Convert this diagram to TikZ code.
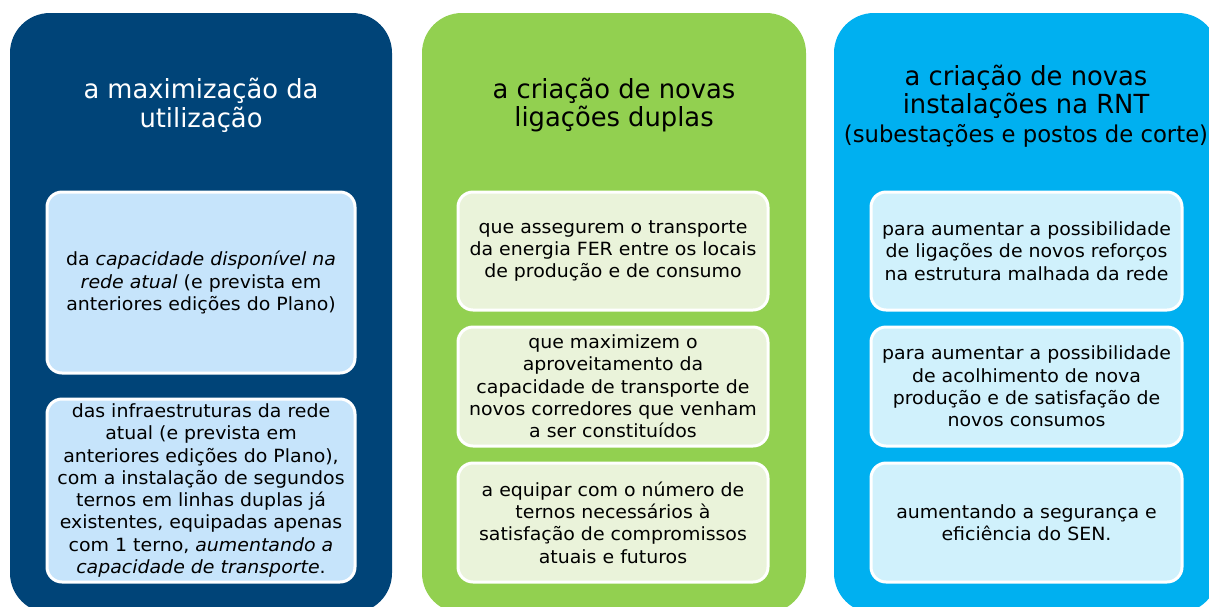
\documentclass[tikz,border=0pt]{standalone}
\usepackage{fontspec}
\setmainfont{DejaVu Sans}[FakeStretch=1.04]
\newfontfamily\ttlfont{DejaVu Sans}[FakeStretch=0.98]
\definecolor{pdark}{RGB}{0,68,120}
\definecolor{pgreen}{RGB}{146,208,80}
\definecolor{pcyan}{RGB}{0,176,240}
\definecolor{idark}{RGB}{198,228,251}
\definecolor{igreen}{RGB}{234,243,218}
\definecolor{icyan}{RGB}{208,241,252}
\tikzset{
  panel/.style={rounded corners=40pt},
  inbox/.style={draw=white, line width=3pt, rounded corners=15pt, inner sep=0pt, align=center,
    font=\fontsize{18.2}{22.3}\selectfont, text=black},
  ttl/.style={align=center, inner sep=0pt, font=\ttlfont\fontsize{26.3}{28.8}\selectfont}
}
\begin{document}
\begin{tikzpicture}[x=1pt,y=-1pt]
\useasboundingbox (0,0) rectangle (1209,606);
\fill[white] (0,0) rectangle (1209,606);
\begin{scope}
\clip (0,0) rectangle (1209,606);
\fill[pdark, panel] (10,13) rectangle (392,613);
\fill[pgreen, panel] (422,13) rectangle (806,613);
\fill[pcyan, panel] (834,13) rectangle (1218,613);
\end{scope}
% titles
\node[ttl, text=white] (t1) at (201,105) {a maximização da\\utilização};
\node[ttl, text=black] (t2) at (614,105) {a criação de novas\\ligações duplas};
\node[ttl, text=black] (t3) at (1026,106) {a criação de novas\\instalações na RNT\\{\fontsize{23.2}{28.8}\selectfont(subestações e postos de corte)}};
% panel 1 boxes
\node[inbox, fill=idark, minimum width=308pt, minimum height=181pt] (a1) at (201,282.5)
  {da \textit{capacidade disponível na}\\\textit{rede atual} (e prevista em\\anteriores edições do Plano)};
\node[inbox, fill=idark, minimum width=308pt, minimum height=183pt] (a2) at (201,490.5)
  {das infraestruturas da rede\\atual (e prevista em\\anteriores edições do Plano),\\com a instalação de segundos\\ternos em linhas duplas já\\existentes, equipadas apenas\\com 1 terno, \textit{aumentando a}\\\textit{capacidade de transporte}.};
% panel 2 boxes
\node[inbox, fill=igreen, minimum width=310pt, minimum height=118pt] (b1) at (613,251)
  {que assegurem o transporte\\da energia FER entre os locais\\de produção e de consumo};
\node[inbox, fill=igreen, minimum width=310pt, minimum height=119pt] (b2) at (613,386.5)
  {que maximizem o\\aproveitamento da\\capacidade de transporte de\\novos corredores que venham\\a ser constituídos};
\node[inbox, fill=igreen, minimum width=310pt, minimum height=119pt] (b3) at (613,522.5)
  {a equipar com o número de\\ternos necessários à\\satisfação de compromissos\\atuais e futuros};
% panel 3 boxes
\node[inbox, fill=icyan, minimum width=311pt, minimum height=118pt] (c1) at (1026.5,251)
  {para aumentar a possibilidade\\de ligações de novos reforços\\na estrutura malhada da rede};
\node[inbox, fill=icyan, minimum width=311pt, minimum height=119pt] (c2) at (1026.5,386.5)
  {para aumentar a possibilidade\\de acolhimento de nova\\produção e de satisfação de\\novos consumos};
\node[inbox, fill=icyan, minimum width=311pt, minimum height=119pt] (c3) at (1026.5,522.5)
  {aumentando a segurança e\\eficiência do SEN.};
\end{tikzpicture}
\end{document}
